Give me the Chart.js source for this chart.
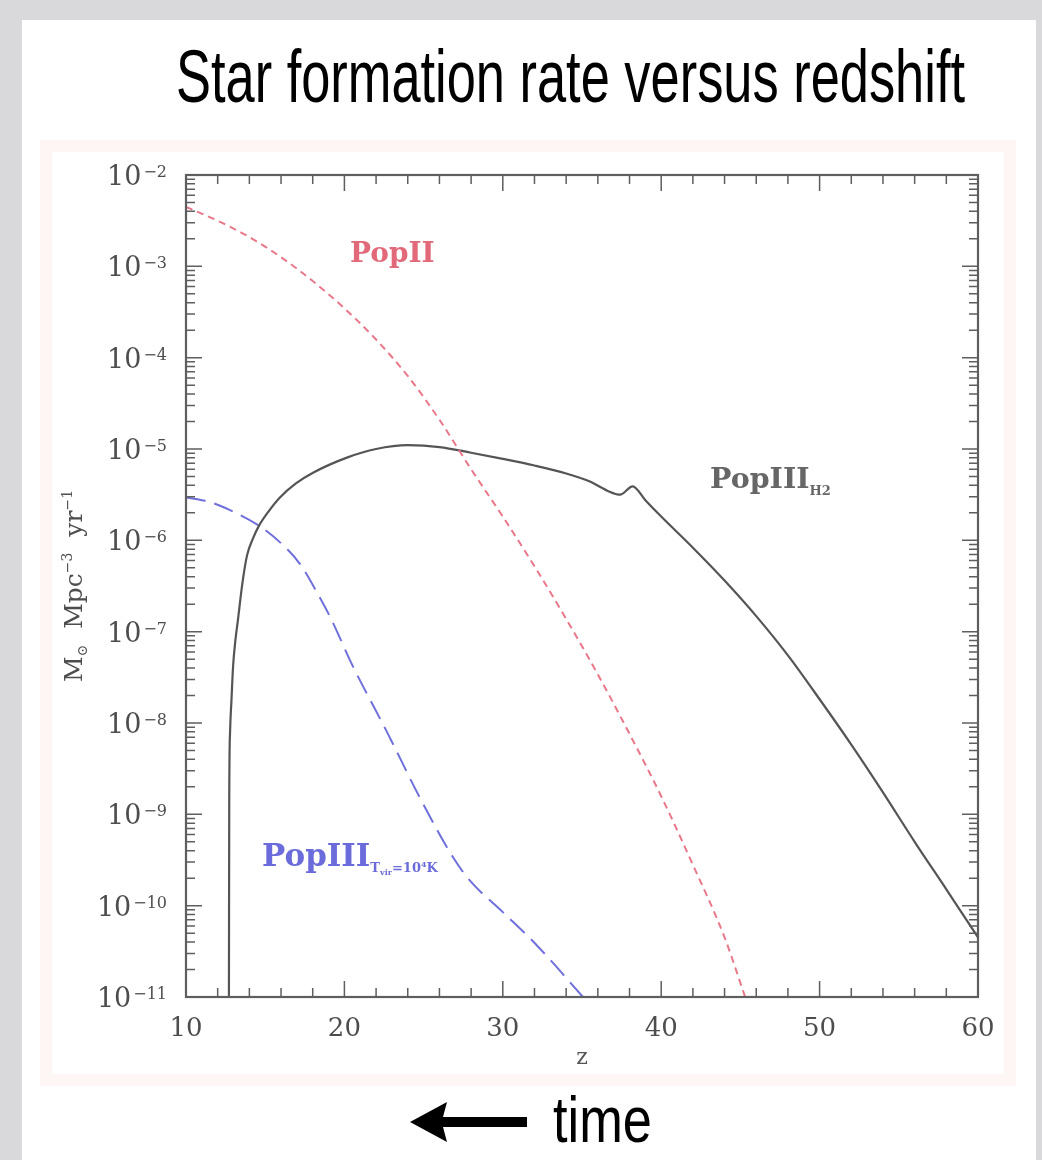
<!DOCTYPE html>
<html>
<head>
<meta charset="utf-8">
<script src="https://cdn.jsdelivr.net/npm/chart.js@4.4.1/dist/chart.umd.min.js"></script>
<style>
    html, body { margin: 0; padding: 0; }
    body { width: 1042px; height: 1160px; background: #d9d9db; position: relative; overflow: hidden; font-family: "Liberation Sans", sans-serif; }
    #panel { position: absolute; left: 22px; top: 20px; width: 1014px; height: 1140px; background: #fff; }
    #fig { position: absolute; left: 40px; top: 140px; width: 952px; height: 922px; border: 12px solid #fef5f5; background: #fff; }
    .slide-text { position: absolute; white-space: nowrap; transform-origin: 0 0; color: #000; line-height: 1; }
    #title { left: 176px; top: 40px; font-size: 74px; }
    #time { left: 553px; top: 1088px; font-size: 64px; }
    #arrow { position: absolute; left: 405px; top: 1098px; }
    #chart { position: absolute; left: 0; top: 0; }
</style>
</head>
<body>
<div id="panel"></div>
<div id="fig"></div>
<div id="title" class="slide-text" data-w="789">Star formation rate versus redshift</div>
<svg id="arrow" width="130" height="50" viewBox="0 0 130 50">
    <polygon points="5,24 42,4 38,19 122,19 122,29 38,29 42,44" fill="#000"/>
</svg>
<div id="time" class="slide-text" data-w="99">time</div>
<canvas id="chart" width="1042" height="1160"></canvas>

<script>
(function () {
    // --- data ---
    const popIIz   = [10, 12, 14, 16, 18, 20, 22, 24, 26, 28, 30, 32, 34, 36, 38, 40, 42, 44, 45.3];
    const popIIsfr = [4.47e-3, 3.16e-3, 2.09e-3, 1.26e-3, 6.9e-4, 3.47e-4, 1.58e-4, 6.3e-5, 2.09e-5, 6.0e-6, 1.82e-6, 5.2e-7, 1.38e-7, 3.4e-8, 7.6e-9, 1.58e-9, 2.8e-10, 4.5e-11, 1.0e-11];

    const h2z   = [12.71, 12.73, 12.78, 12.87, 12.97, 13.12, 13.28, 13.54, 13.85, 14.23, 14.61, 15.18, 15.93, 16.94, 18.02, 20.2, 22, 24, 26, 28, 30, 32, 34, 35.5, 36.6, 37.4, 38.2, 39.0, 40, 42, 44, 46, 48, 50, 52, 54, 56, 58, 60];
    const h2sfr = [1.0e-11, 1.41e-9, 7.8e-9, 1.78e-8, 4.1e-8, 8.1e-8, 1.35e-7, 3.2e-7, 6.8e-7, 1.05e-6, 1.45e-6, 2.04e-6, 2.95e-6, 4.2e-6, 5.5e-6, 8.1e-6, 1.0e-5, 1.1e-5, 1.05e-5, 9.1e-6, 7.8e-6, 6.6e-6, 5.4e-6, 4.4e-6, 3.5e-6, 3.16e-6, 3.9e-6, 2.75e-6, 1.82e-6, 8.3e-7, 3.63e-7, 1.48e-7, 5.5e-8, 1.82e-8, 5.8e-9, 1.74e-9, 5.0e-10, 1.51e-10, 4.5e-11];

    const tvirz   = [10, 11.5, 12.78, 14.6, 16, 17.2, 18.3, 19.1, 20.5, 22.7, 24.8, 26.9, 27.9, 30, 32.2, 35.06];
    const tvirsfr = [2.95e-6, 2.63e-6, 2.14e-6, 1.45e-6, 9.3e-7, 5.5e-7, 2.63e-7, 1.45e-7, 4.3e-8, 7.9e-9, 1.48e-9, 3.3e-10, 1.9e-10, 8.5e-11, 3.6e-11, 1.0e-11];

    const xTicks = [10, 20, 30, 40, 50, 60];
    const yTickExps = [-2, -3, -4, -5, -6, -7, -8, -9, -10, -11];

    // squeeze the slide texts to the condensed width of the original
    document.querySelectorAll('.slide-text').forEach(el => {
        const w = el.getBoundingClientRect().width;
        el.style.transform = 'scaleX(' + (Number(el.dataset.w) / w) + ')';
    });

    const toPts = (xs, ys) => xs.map((z, i) => ({ x: z, y: ys[i] }));

    // curve labels, anchored in data coordinates (baseline, left)
    const curveLabels = [
        { z: 20.35, v: 1.11e-3, color: '#e2697a', parts: [['PopII', 28, 0]] },
        { z: 43.08, v: 3.7e-6, color: '#666', parts: [['PopIII', 28.5, 0], ['H2', 13, 7]] },
        { z: 14.8, v: 2.7e-10, color: '#6b6bdb', parts: [['PopIII', 31, 0], ['T', 13, 6], ['vir', 8, 9], ['=10', 13, 6], ['4', 8, 1], ['K', 13, 6]] }
    ];
    // y axis title pieces: text, size, shift off the baseline
    const yTitle = [['M', 25, 0], ['⊙', 14, 5], ['  Mpc', 25, 0], ['\u22123', 14, -10], ['  yr', 25, 0], ['\u22121', 14, -10]];

    // draws a run of text pieces starting at (x, y), returns the end x
    function drawRun(ctx, parts, x, y, weight, measureOnly) {
        parts.forEach(([t, size, dy]) => {
            ctx.font = weight + size + 'px "DejaVu Serif"';
            if (!measureOnly) ctx.fillText(t, x, y + dy);
            x += ctx.measureText(t).width;
        });
        return x;
    }

    const frameTicks = {
        id: 'frameTicks',
        afterDatasetsDraw(chart) {
            const { ctx, chartArea: a, scales: { x, y } } = chart;
            ctx.save();
            ctx.strokeStyle = '#5e5e5e';
            ctx.lineWidth = 1.5;
            ctx.beginPath();
            // x: minor every 2, major every 10, on bottom and top
            for (let v = x.min; v <= x.max + 1e-9; v += 2) {
                const px = x.getPixelForValue(v);
                const len = Math.abs(v % 10) < 1e-9 ? 16 : 9;
                ctx.moveTo(px, a.bottom); ctx.lineTo(px, a.bottom - len);
                ctx.moveTo(px, a.top); ctx.lineTo(px, a.top + len);
            }
            // y: log minor ticks, on left and right
            for (let e = -11; e <= -2; e++) {
                for (let m = 1; m <= 9; m++) {
                    const v = m * Math.pow(10, e);
                    if (v > y.max * 1.0001) break;
                    const py = y.getPixelForValue(v);
                    const len = m === 1 ? 16 : 9;
                    ctx.moveTo(a.left, py); ctx.lineTo(a.left + len, py);
                    ctx.moveTo(a.right, py); ctx.lineTo(a.right - len, py);
                }
            }
            ctx.stroke();
            ctx.lineWidth = 2.2;
            ctx.strokeRect(a.left, a.top, a.right - a.left, a.bottom - a.top);

            // y tick labels: 10 with a raised exponent
            ctx.fillStyle = '#4d4d4d';
            ctx.textAlign = 'right';
            ctx.textBaseline = 'alphabetic';
            yTickExps.forEach(e => {
                const py = y.getPixelForValue(Math.pow(10, e));
                const right = a.left - 19;
                const exp = '\u2212' + Math.abs(e);
                ctx.font = '16px "DejaVu Serif"';
                const ew = ctx.measureText(exp).width;
                ctx.fillText(exp, right, py + 2);
                ctx.font = '27px "DejaVu Serif"';
                ctx.fillText('10', right - ew - 2, py + 10);
            });

            // y axis title, rotated
            ctx.textAlign = 'left';
            const tw = drawRun(ctx, yTitle, 0, 0, '', true);
            ctx.save();
            ctx.translate(a.left - 104, (a.top + a.bottom) / 2);
            ctx.rotate(-Math.PI / 2);
            drawRun(ctx, yTitle, -tw / 2, 0, '', false);
            ctx.restore();

            // curve labels
            curveLabels.forEach(l => {
                ctx.fillStyle = l.color;
                drawRun(ctx, l.parts, x.getPixelForValue(l.z), y.getPixelForValue(l.v), 'bold ', false);
            });
            ctx.restore();
        }
    };

    const serif = { family: '"DejaVu Serif", serif' };

    new Chart(document.getElementById('chart'), {
        type: 'scatter',
        data: {
            datasets: [
                {
                    label: 'PopII',
                    data: toPts(popIIz, popIIsfr),
                    showLine: true,
                    borderColor: '#e8788a',
                    borderWidth: 2,
                    borderDash: [7, 5],
                    cubicInterpolationMode: 'monotone',
                    pointRadius: 0
                },
                {
                    label: 'PopIII H2',
                    data: toPts(h2z, h2sfr),
                    showLine: true,
                    borderColor: '#555',
                    borderWidth: 2.2,
                    cubicInterpolationMode: 'monotone',
                    pointRadius: 0
                },
                {
                    label: 'PopIII Tvir=1e4K',
                    data: toPts(tvirz, tvirsfr),
                    showLine: true,
                    borderColor: '#7070dd',
                    borderWidth: 2,
                    borderDash: [20, 9],
                    cubicInterpolationMode: 'monotone',
                    pointRadius: 0
                }
            ]
        },
        options: {
            responsive: false,
            animation: false,
            events: [],
            layout: { padding: { left: 40, top: 175, right: 64, bottom: 83 } },
            plugins: { legend: { display: false }, tooltip: { enabled: false } },
            scales: {
                x: {
                    type: 'linear',
                    min: 10,
                    max: 60,
                    afterBuildTicks: s => { s.ticks = xTicks.map(v => ({ value: v })); },
                    afterFit: s => { s.height = 80; },
                    grid: { display: false, drawTicks: false },
                    border: { display: false },
                    ticks: { color: '#4d4d4d', padding: 17, font: { ...serif, size: 26 }, callback: v => String(v) },
                    title: { display: true, text: 'z', color: '#555', padding: { top: 0, bottom: 6 }, font: { ...serif, size: 22 } }
                },
                y: {
                    type: 'logarithmic',
                    min: 1e-11,
                    max: 1e-2,
                    afterBuildTicks: s => { s.ticks = yTickExps.map(e => ({ value: Math.pow(10, e) })); },
                    afterFit: s => { s.width = 146; },
                    grid: { display: false, drawTicks: false },
                    border: { display: false },
                    ticks: { display: false },
                    title: { display: false }
                }
            }
        },
        plugins: [frameTicks]
    });
})();
</script>
</body>
</html>
